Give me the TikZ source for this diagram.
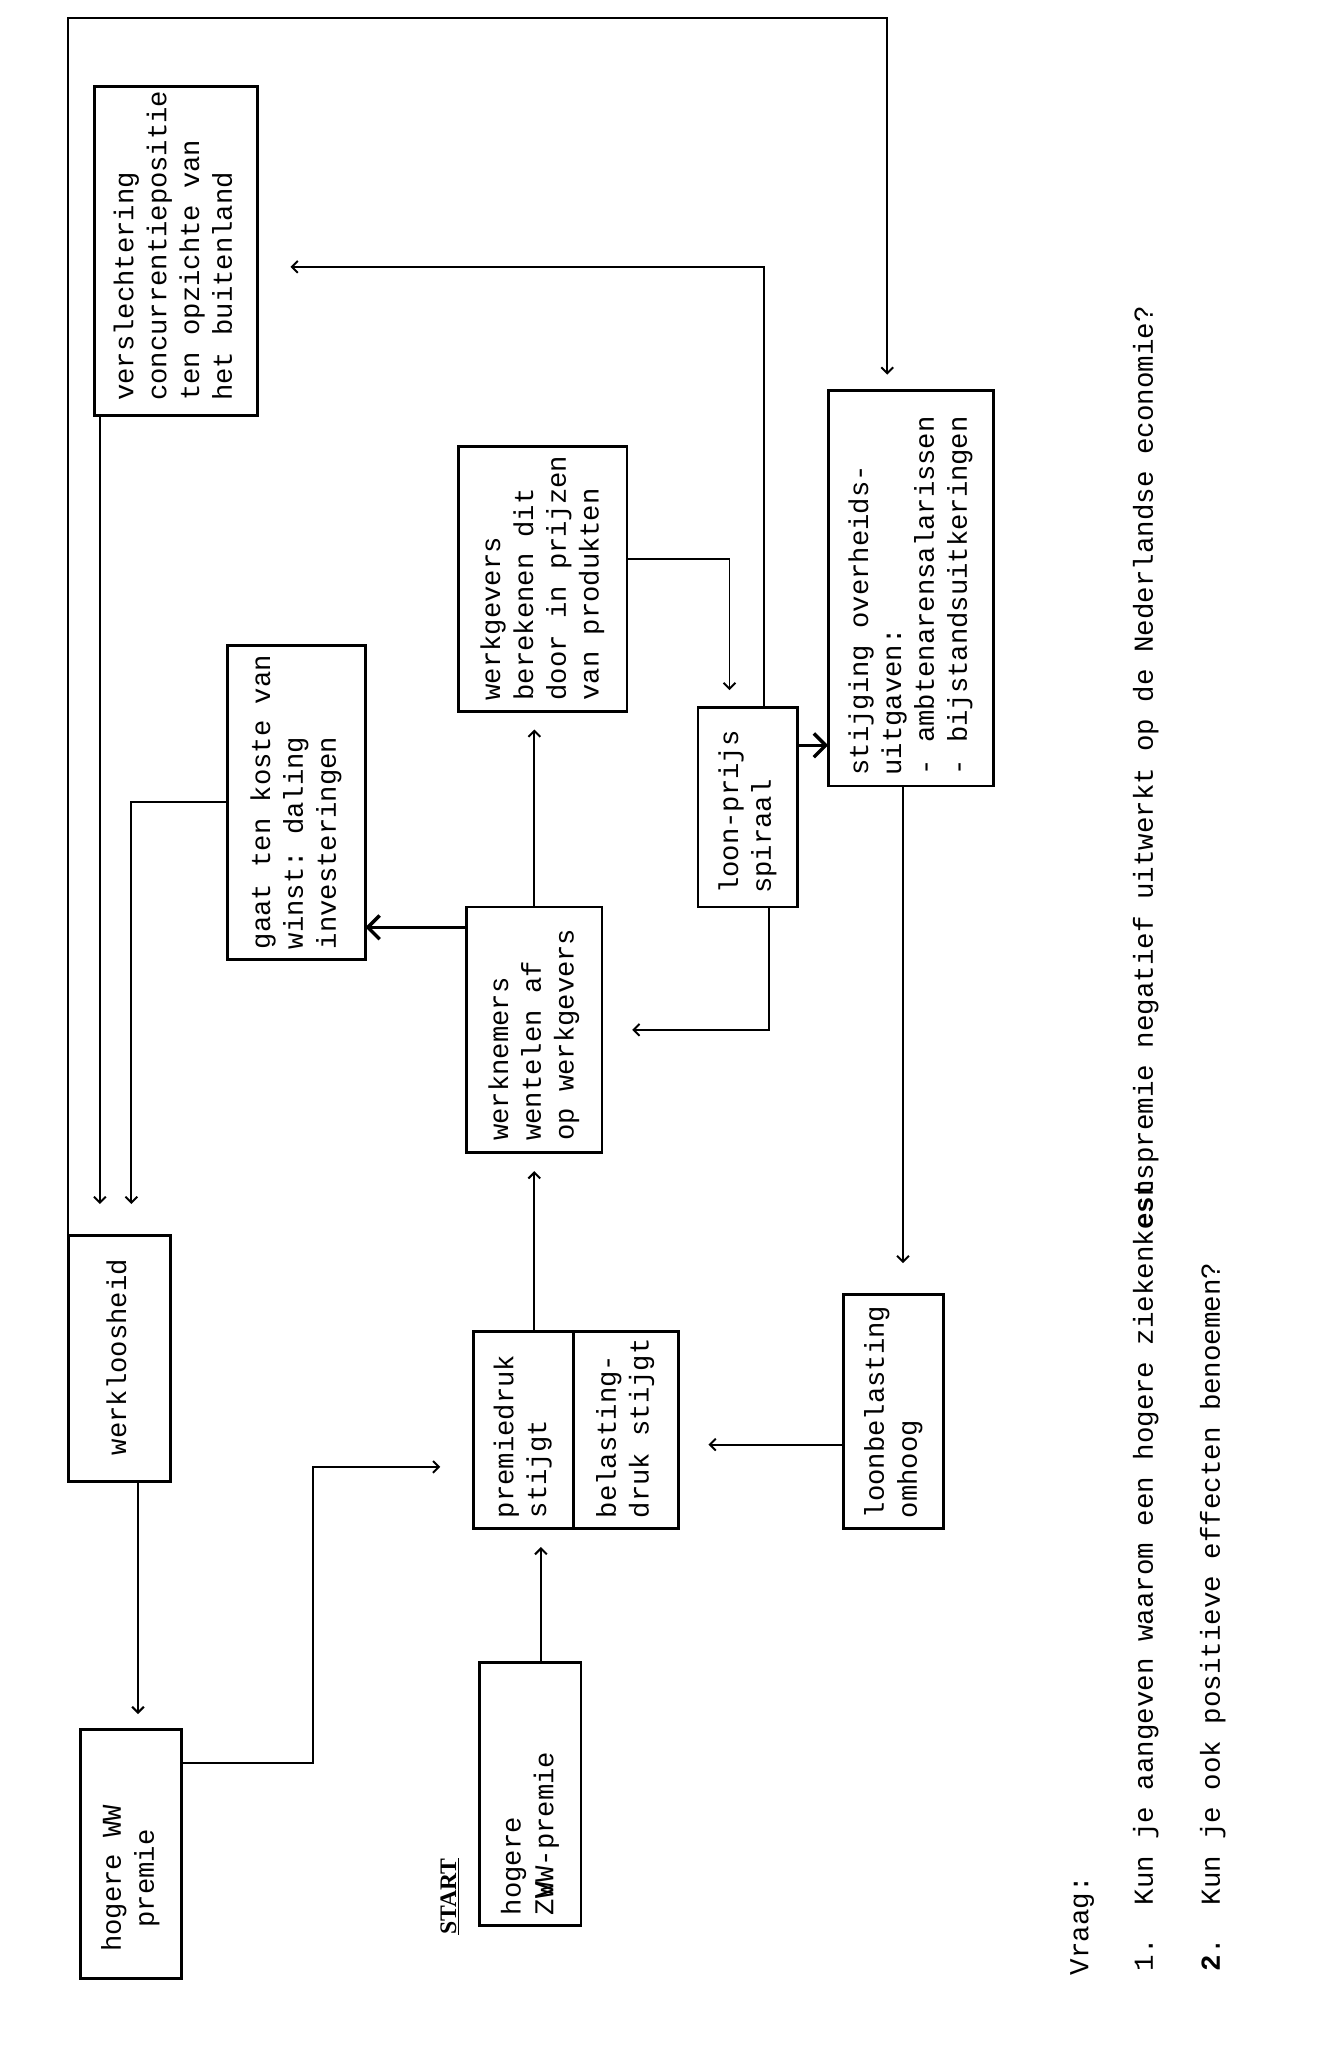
\documentclass[tikz,border=0pt]{standalone}
\usepackage{fontspec}
\usepackage{graphicx}
\setmainfont{Liberation Serif}
\newfontfamily\tw{Liberation Mono}
\usetikzlibrary{arrows.meta,calc}
\newcommand{\vtxt}[3][8pt]{\rotatebox{90}{\makebox[#2][l]{\hspace*{#1}\begin{tabular}{@{}l@{}}#3\end{tabular}}}}
\newcommand{\vctr}[3][8pt]{\rotatebox{90}{\makebox[#2][l]{\hspace*{#1}\begin{tabular}{@{}c@{}}#3\end{tabular}}}}
\begin{document}
\begin{tikzpicture}[x=1pt,y=-1pt,
  box/.style={draw,line width=2.2pt,inner sep=0pt,outer sep=0pt,font=\tw\fontsize{20.7}{25}\selectfont\frenchspacing},
  arr/.style={line width=1.5pt,-{Straight Barb[length=4.5pt,width=9pt]}},
  boldarr/.style={line width=2.6pt,-{Straight Barb[length=9pt,width=18pt,line width=2.6pt]}},
  qtext/.style={rotate=90,anchor=base west,inner sep=0pt,font=\tw\fontsize{20.9}{25}\selectfont\frenchspacing}]
\fill[white] (0,0) rectangle (1016,1568);
\useasboundingbox (0,0) rectangle (1016,1568);

% boxes
\node[box,minimum width=124pt,minimum height=250pt] (vers) at (134,191)
  {\vtxt[11pt]{250pt}{verslechtering\\concurrentiepositie\\ten opzichte van\\het buitenland}};
\node[box,minimum width=105pt,minimum height=239pt] (gaat) at (225.5,610.5)
  {\vtxt{239pt}{gaat ten koste van\\winst: daling\\investeringen}};
\node[box,minimum width=128pt,minimum height=201pt] (werkg) at (413,440.5)
  {\vtxt{201pt}{werkgevers\\berekenen dit\\door in prijzen\\van produkten}};
\node[box,minimum width=103pt,minimum height=187pt] (werkn) at (406.5,783.5)
  {\vtxt[9pt]{187pt}{werknemers\\wentelen af\\op werkgevers}};
\node[box,minimum width=76pt,minimum height=152pt] (loon) at (569,614)
  {\vtxt[10pt]{152pt}{loon-prijs\\spiraal}};
\node[box,minimum width=126pt,minimum height=301pt] (stijg) at (693,447.5)
  {\vtxt{301pt}{stijging overheids-\\uitgaven:\\- ambtenarensalarissen\\- bijstandsuitkeringen}};
\node[box,minimum width=78pt,minimum height=187pt] (werkl) at (91,1033.5)
  {\vtxt[20pt]{187pt}{werkloosheid}};
\node[box,minimum width=77pt,minimum height=189pt] (ww) at (99.5,1410.5)
  {\vctr[20pt]{189pt}{hogere WW\\premie}};
\node[box,minimum width=76pt,minimum height=150pt] (premA) at (398,1088)
  {\vtxt{150pt}{premiedruk\\stijgt}};
\node[box,minimum width=80pt,minimum height=150pt] (premB) at (476,1088)
  {\vtxt{150pt}{belasting-\\druk stijgt}};
\node[box,minimum width=76pt,minimum height=178pt] (loonb) at (680,1074)
  {\vtxt{178pt}{loonbelasting\\omhoog}};
\node[box,minimum width=77pt,minimum height=200pt] (zvw) at (403.5,1365)
  {\vtxt{200pt}{hogere\\Z\rlap{V}WW-premie}};

\node[rotate=90,anchor=base west,inner sep=0pt,font=\bfseries\fontsize{18}{21}\selectfont] (start) at (347,1472) {\underline{START}};

% connectors
\draw[arr,shorten >=12pt] (werkl.north west) |- ($(stijg.north)+(-18,-283)$) -- ($(stijg.north)+(-18,0)$);
\draw[arr,shorten >=24pt] ($(vers.south west)+(4,0)$) coordinate (v1) -- (v1 |- werkl.north);
\draw[arr,shorten >=24pt] (gaat.west) -| ($(werkl.north)+(9,0)$);
\draw[arr,shorten >=12pt] ($(werkl.south)+(14,0)$) coordinate (w1) -- (w1 |- ww.north);
\draw[arr,shorten >=25pt] ($(ww.north east)+(0,25)$) -- ++(100,0) |- ($(premA.west)+(0,28)$);
\draw[arr,shorten >=14pt] ($(zvw.north)+(8,0)$) coordinate (z1) -- (z1 |- premA.south);
\draw[arr,shorten >=23pt] ($(loonb.west)+(0,25)$) coordinate (l1) -- (l1 -| premB.east);
\draw[arr,shorten >=14pt] (werkn.south |- premA.north) -- (werkn.south);
\draw[arr,shorten >=14pt] (werkn.north) -- (werkn.north |- werkg.south);
\draw[boldarr] ($(werkn.west)+(0,-78)$) coordinate (n1) -- (n1 -| gaat.east);
\draw[arr,shorten >=13pt] ($(werkg.east)+(0,-15)$) -| ($(loon.north)+(-14,0)$);
\draw[arr,shorten >=25pt] ($(loon.north)+(12,0)$) |- ($(vers.east)+(0,12)$);
\draw[boldarr] ($(loon.east)+(0,-47)$) coordinate (p1) -- (p1 -| stijg.west);
\draw[arr,shorten >=23pt] ($(loon.south)+(16,0)$) |- (werkn.east);
\draw[arr,shorten >=24pt] ($(stijg.south)+(-6,0)$) coordinate (s1) -- (s1 |- loonb.north);

% question text
\node[qtext] (vraag) at (828,1503) {Vraag:};
\node[qtext] (q1) at (877,1500) {1.\ \ Kun je aangeven waarom een hogere ziekenk\textbf{es}\rlap{t}nspremie negatief uitwerkt op de Nederlandse economie?};
\node[qtext] (q2) at (928,1500) {\textbf{2}.\ \ Kun je ook positieve effecten benoemen?};
\end{tikzpicture}
\end{document}
